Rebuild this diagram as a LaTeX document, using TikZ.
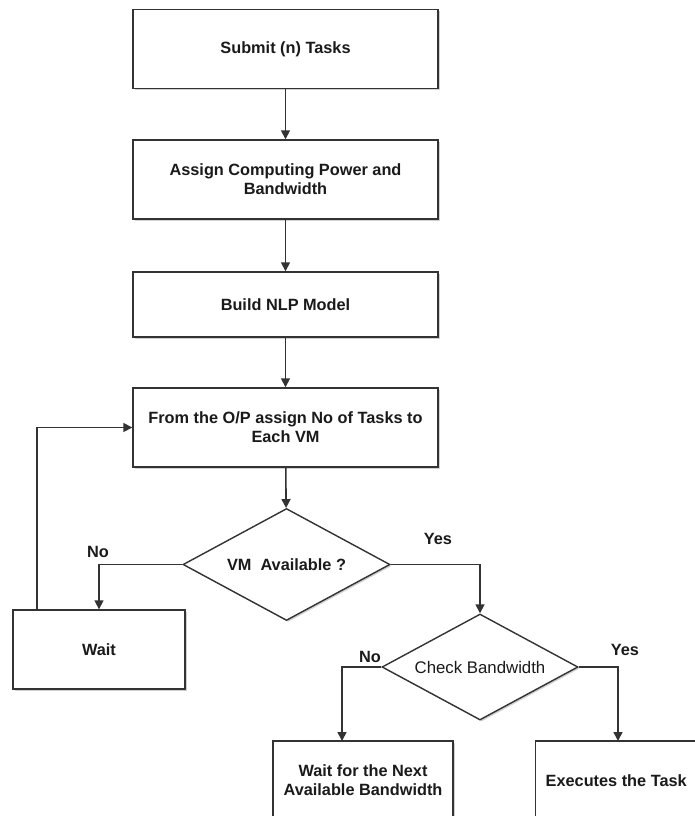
\documentclass[tikz,border=0pt]{standalone}
\usepackage{fontspec}
\setmainfont{Liberation Sans}
\usetikzlibrary{shapes.geometric,shadows,arrows.meta}
\definecolor{linec}{HTML}{333333}
\definecolor{txtc}{HTML}{1A1A1A}
\tikzset{
  base/.style={draw=linec, line width=1.4pt, fill=white, text=txtc,
    font=\fontsize{16.3}{19}\selectfont\bfseries, align=center, inner sep=0pt,
    drop shadow={shadow xshift=1.6pt, shadow yshift=-1.6pt, fill=black!30, opacity=0.6}},
  procbox/.style={base, rectangle, minimum width=305pt, minimum height=79pt},
  decision/.style={base, diamond, aspect=2},
  flow/.style={draw=linec, line width=1.6pt, -{Triangle[length=9pt,width=9pt]}},
  lbl/.style={font=\fontsize{16.3}{19}\selectfont\bfseries, text=txtc, inner sep=0pt}
}
\begin{document}
\begin{tikzpicture}[x=1pt,y=-1pt]
\useasboundingbox (0,0) rectangle (695,816);
\clip (0,0) rectangle (695,816);
\node[procbox] (b1) at (285.5,49) {Submit (n) Tasks};
\node[procbox] (b2) at (285.5,179.5) {Assign Computing Power and\\Bandwidth};
\node[procbox, minimum height=65pt] (b3) at (285.5,304.5) {Build NLP Model};
\node[procbox] (b4) at (285.5,427.5) {From the O/P assign No of Tasks to\\Each VM};
\node[decision, minimum width=207pt, minimum height=112pt] (d1) at (286.5,564.5) {VM\ \ Available ?};
\node[procbox, minimum width=172pt] (wait) at (99,649.5) {Wait};
\node[decision, minimum width=196pt, minimum height=106pt, font=\fontsize{16.8}{19}\selectfont] (d2) at (480,667) {Check Bandwidth};
\node[procbox, minimum width=180pt] (nb) at (363,780.5) {Wait for the Next\\Available Bandwidth};
\node[procbox, minimum width=162pt] (ex) at (616.2,780.5) {Executes the Task};
\coordinate (lp) at (37,610);
\coordinate (nbin) at (342,741);
\coordinate (exin) at (618,741);
\draw[flow] (b1) -- (b2);
\draw[flow] (b2) -- (b3);
\draw[flow] (b3) -- (b4);
\draw[flow] (b4) -- (d1);
\draw[flow] (d1.west) -| (wait.north);
\draw[flow] (lp) |- (b4.west);
\draw[flow] (d1.east) -| (d2.north);
\draw[flow] (d2.west) -| (nbin);
\draw[flow] (d2.east) -| (exin);
\node[lbl] (l1) at (98,552) {No};
\node[lbl] (l2) at (438,539) {Yes};
\node[lbl] (l3) at (370,657) {No};
\node[lbl] (l4) at (625,650) {Yes};
\end{tikzpicture}
\end{document}
